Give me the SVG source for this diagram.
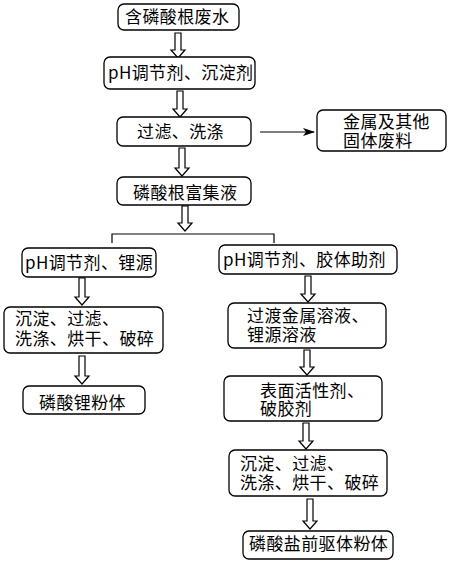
<svg xmlns="http://www.w3.org/2000/svg" width="450" height="563" viewBox="0 0 450 563">
<style>
.box{fill:#fff;stroke:#000;stroke-width:1.3}
.t{font-family:"Noto Sans CJK SC","Noto Sans",sans-serif;font-size:17px;letter-spacing:0.4px;fill:#000}
.arr{fill:#fff;stroke:#000;stroke-width:1.2;stroke-linejoin:miter}
.ln{fill:none;stroke:#000;stroke-width:1.2}
</style>
<defs>
<marker id="ah" markerWidth="12" markerHeight="8" refX="11" refY="4" orient="auto" markerUnits="userSpaceOnUse">
<path d="M0,0 L12,4 L0,8 L3,4 Z" fill="#000"/>
</marker>
</defs>
<rect width="450" height="563" fill="#fff"/>
<g id="connectors">
<path class="arr" d="M175,33 H181 V50 H185 L178,58 L171,50 H175 Z"/>
<path class="arr" d="M177,91 H183 V109 H187 L180,117 L173,109 H177 Z"/>
<path class="arr" d="M179,148 H185 V168 H189 L182,176 L175,168 H179 Z"/>
<path class="arr" d="M182,206 H188 V223 H192 L185,231 L178,223 H182 Z"/>
<path class="ln" d="M112,243 V234 H274 V243"/>
<path class="arr" d="M79,278 H85 V297 H89 L82,305 L75,297 H79 Z"/>
<path class="arr" d="M79,356 H85 V376 H89 L82,384 L75,376 H79 Z"/>
<path class="arr" d="M305,276 H311 V294 H315 L308,302 L301,294 H305 Z"/>
<path class="arr" d="M304,350 H310 V367 H314 L307,375 L300,367 H304 Z"/>
<path class="arr" d="M303,423 H309 V441 H313 L306,449 L299,441 H303 Z"/>
<path class="arr" d="M307,499 H313 V521 H317 L310,529 L303,521 H307 Z"/>
<line class="ln" x1="260" y1="132" x2="314" y2="132" marker-end="url(#ah)"/>
</g>
<g id="n1"><rect class="box" x="118" y="4" width="121" height="26" rx="6"/><text class="t" x="125" y="23">含磷酸根废水</text></g>
<g id="n2"><rect class="box" x="104" y="57" width="151" height="32" rx="6"/><text class="t" x="108" y="79">pH调节剂、沉淀剂</text></g>
<g id="n3"><rect class="box" x="117" y="117" width="134" height="29" rx="6"/><text class="t" x="137" y="138">过滤、洗涤</text></g>
<g id="n4"><rect class="box" x="317" y="110" width="129" height="41" rx="6"/><text class="t"><tspan x="343" y="128">金属及其他</tspan><tspan x="343" y="147">固体废料</tspan></text></g>
<g id="n5"><rect class="box" x="117" y="177" width="134" height="28" rx="6"/><text class="t" x="133" y="199">磷酸根富集液</text></g>
<g id="n6"><rect class="box" x="22" y="248" width="134" height="29" rx="6"/><text class="t" x="25" y="269">pH调节剂、锂源</text></g>
<g id="n7"><rect class="box" x="219" y="245" width="178" height="29" rx="6"/><text class="t" x="223" y="266">pH调节剂、胶体助剂</text></g>
<g id="n8"><rect class="box" x="4" y="307" width="159" height="46" rx="6"/><text class="t"><tspan x="15" y="325">沉淀、过滤、</tspan><tspan x="15" y="345">洗涤、烘干、破碎</tspan></text></g>
<g id="n9"><rect class="box" x="228" y="303" width="158" height="45" rx="6"/><text class="t"><tspan x="247" y="322">过渡金属溶液、</tspan><tspan x="247" y="341">锂源溶液</tspan></text></g>
<g id="n10"><rect class="box" x="23" y="386" width="122" height="28" rx="6"/><text class="t" x="39" y="409">磷酸锂粉体</text></g>
<g id="n11"><rect class="box" x="224" y="376" width="158" height="45" rx="6"/><text class="t"><tspan x="260" y="397">表面活性剂、</tspan><tspan x="260" y="415">破胶剂</tspan></text></g>
<g id="n12"><rect class="box" x="229" y="450" width="158" height="46" rx="6"/><text class="t"><tspan x="240" y="470">沉淀、过滤、</tspan><tspan x="240" y="489">洗涤、烘干、破碎</tspan></text></g>
<g id="n13"><rect class="box" x="243" y="531" width="150" height="28" rx="6"/><text class="t" x="249" y="550">磷酸盐前驱体粉体</text></g>
</svg>
